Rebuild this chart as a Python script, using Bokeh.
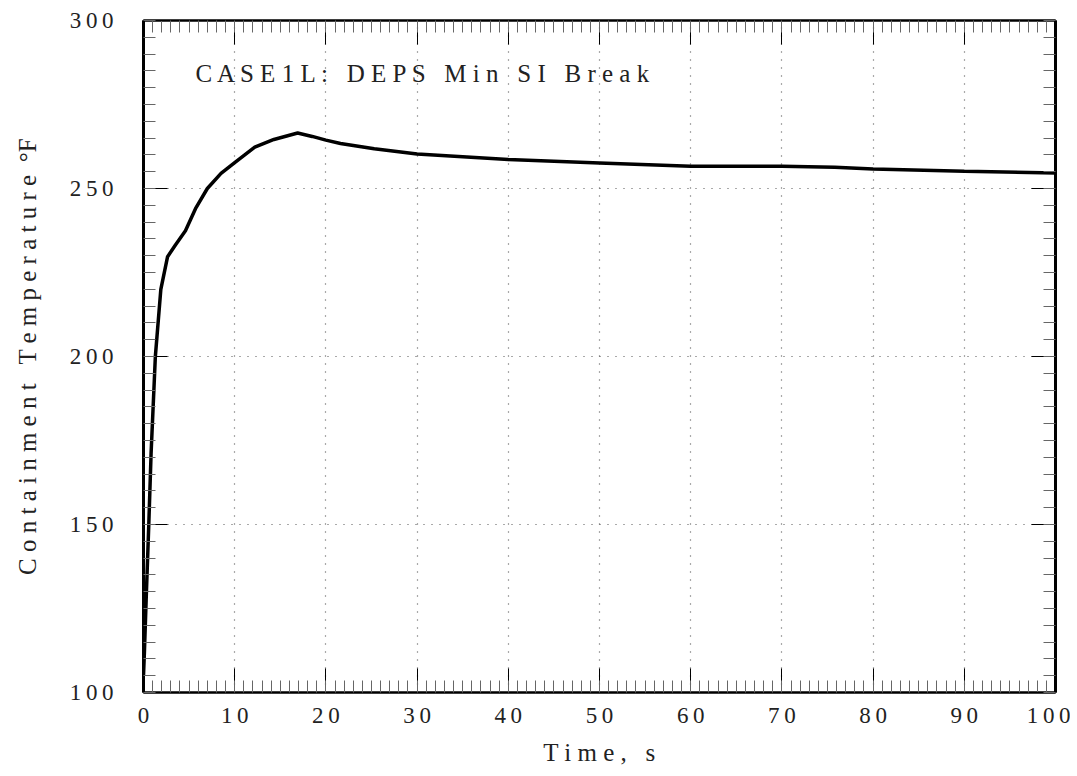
from bokeh.plotting import figure
from bokeh.models import SingleIntervalTicker, LinearAxis, Label, Range1d
from bokeh.embed import file_html
from bokeh.resources import INLINE

# ---- data ----
time_s = [0, 0.1, 0.29, 0.58, 0.83, 1.3, 1.9, 2.64, 3.5, 4.6, 5.7, 7.0, 8.5,
          10.0, 12.2, 14.3, 16.9, 18.5, 20.0, 21.6, 25.3, 30, 40, 50, 60, 70,
          75.8, 80, 90, 100]
temp_f = [105, 112, 127.5, 150, 171, 200, 220, 229.7, 233.2, 237.4, 244, 250,
          254.5, 257.7, 262.3, 264.6, 266.5, 265.5, 264.4, 263.4, 261.8, 260.3,
          258.6, 257.6, 256.6, 256.6, 256.3, 255.8, 255.1, 254.6]

x_ticks = [0, 10, 20, 30, 40, 50, 60, 70, 80, 90, 100]
y_ticks = [100, 150, 200, 250, 300]
title_text = "C A S E 1 L :\u00a0\u00a0\u00a0D E P S\u00a0\u00a0\u00a0M i n\u00a0\u00a0\u00a0S I\u00a0\u00a0\u00a0B r e a k"
x_label = "T i m e ,\u00a0\u00a0\u00a0s"
y_label = "C o n t a i n m e n t\u00a0\u00a0\u00a0T e m p e r a t u r e\u00a0\u00a0\u00b0F"

FONT = "Liberation Serif"
THIN = "\u2009"


def spaced(v):
    return THIN.join(str(v))


p = figure(width=1070, height=768, x_range=Range1d(0, 100), y_range=Range1d(100, 300),
           output_backend="svg", toolbar_location=None,
           min_border_left=143, min_border_right=15, min_border_top=20,
           min_border_bottom=75)
p.background_fill_color = "white"
p.border_fill_color = "white"
p.outline_line_color = "black"
p.outline_line_width = 2


def style_axis(ax, labels=True):
    ax.axis_line_color = "black"
    ax.axis_line_width = 2
    ax.major_tick_in = 24
    ax.major_tick_out = 0
    ax.minor_tick_in = 12
    ax.minor_tick_out = 0
    ax.major_tick_line_color = "black"
    ax.major_tick_line_width = 1
    ax.minor_tick_line_color = "#666666"
    ax.minor_tick_line_width = 1
    ax.major_label_text_font = FONT
    ax.major_label_text_font_size = "23px"
    ax.major_label_text_color = "#222222"
    ax.axis_label_text_font = FONT
    ax.axis_label_text_font_style = "normal"
    ax.axis_label_text_font_size = "25px"
    ax.axis_label_text_color = "#222222"
    if not labels:
        ax.major_label_text_font_size = "0px"
        ax.major_label_text_alpha = 0


xt = SingleIntervalTicker(interval=10, num_minor_ticks=10)
yt = SingleIntervalTicker(interval=50, num_minor_ticks=10)

xa = p.xaxis[0]
xa.ticker = xt
style_axis(xa)
xa.major_label_overrides = {v: spaced(v) for v in x_ticks}
xa.major_label_standoff = 10
xa.axis_label = x_label
xa.axis_label_standoff = 8

ya = p.yaxis[0]
ya.ticker = yt
style_axis(ya)
ya.axis_line_width = 3
ya.major_label_overrides = {v: spaced(v) for v in y_ticks}
ya.major_label_standoff = 30
ya.axis_label = y_label
ya.axis_label_standoff = 26

top = LinearAxis(ticker=SingleIntervalTicker(interval=10, num_minor_ticks=10))
style_axis(top, labels=False)
top.major_label_overrides = {v: "" for v in x_ticks}
p.add_layout(top, "above")

right = LinearAxis(ticker=SingleIntervalTicker(interval=50, num_minor_ticks=10))
style_axis(right, labels=False)
right.axis_line_width = 3
right.major_label_overrides = {v: "" for v in y_ticks}
p.add_layout(right, "right")

for g in (p.xgrid[0], p.ygrid[0]):
    g.grid_line_color = "#555555"
    g.grid_line_dash = "1 7"
    g.grid_line_width = 1.2

p.line(time_s, temp_f, line_color="black", line_width=3.5)

p.add_layout(Label(x=5.7, y=284.3, text=title_text, text_font=FONT,
                   text_font_size="25px", text_baseline="middle",
                   text_align="left", text_color="#222222"))

open("out.html", "w").write(file_html(p, INLINE))
